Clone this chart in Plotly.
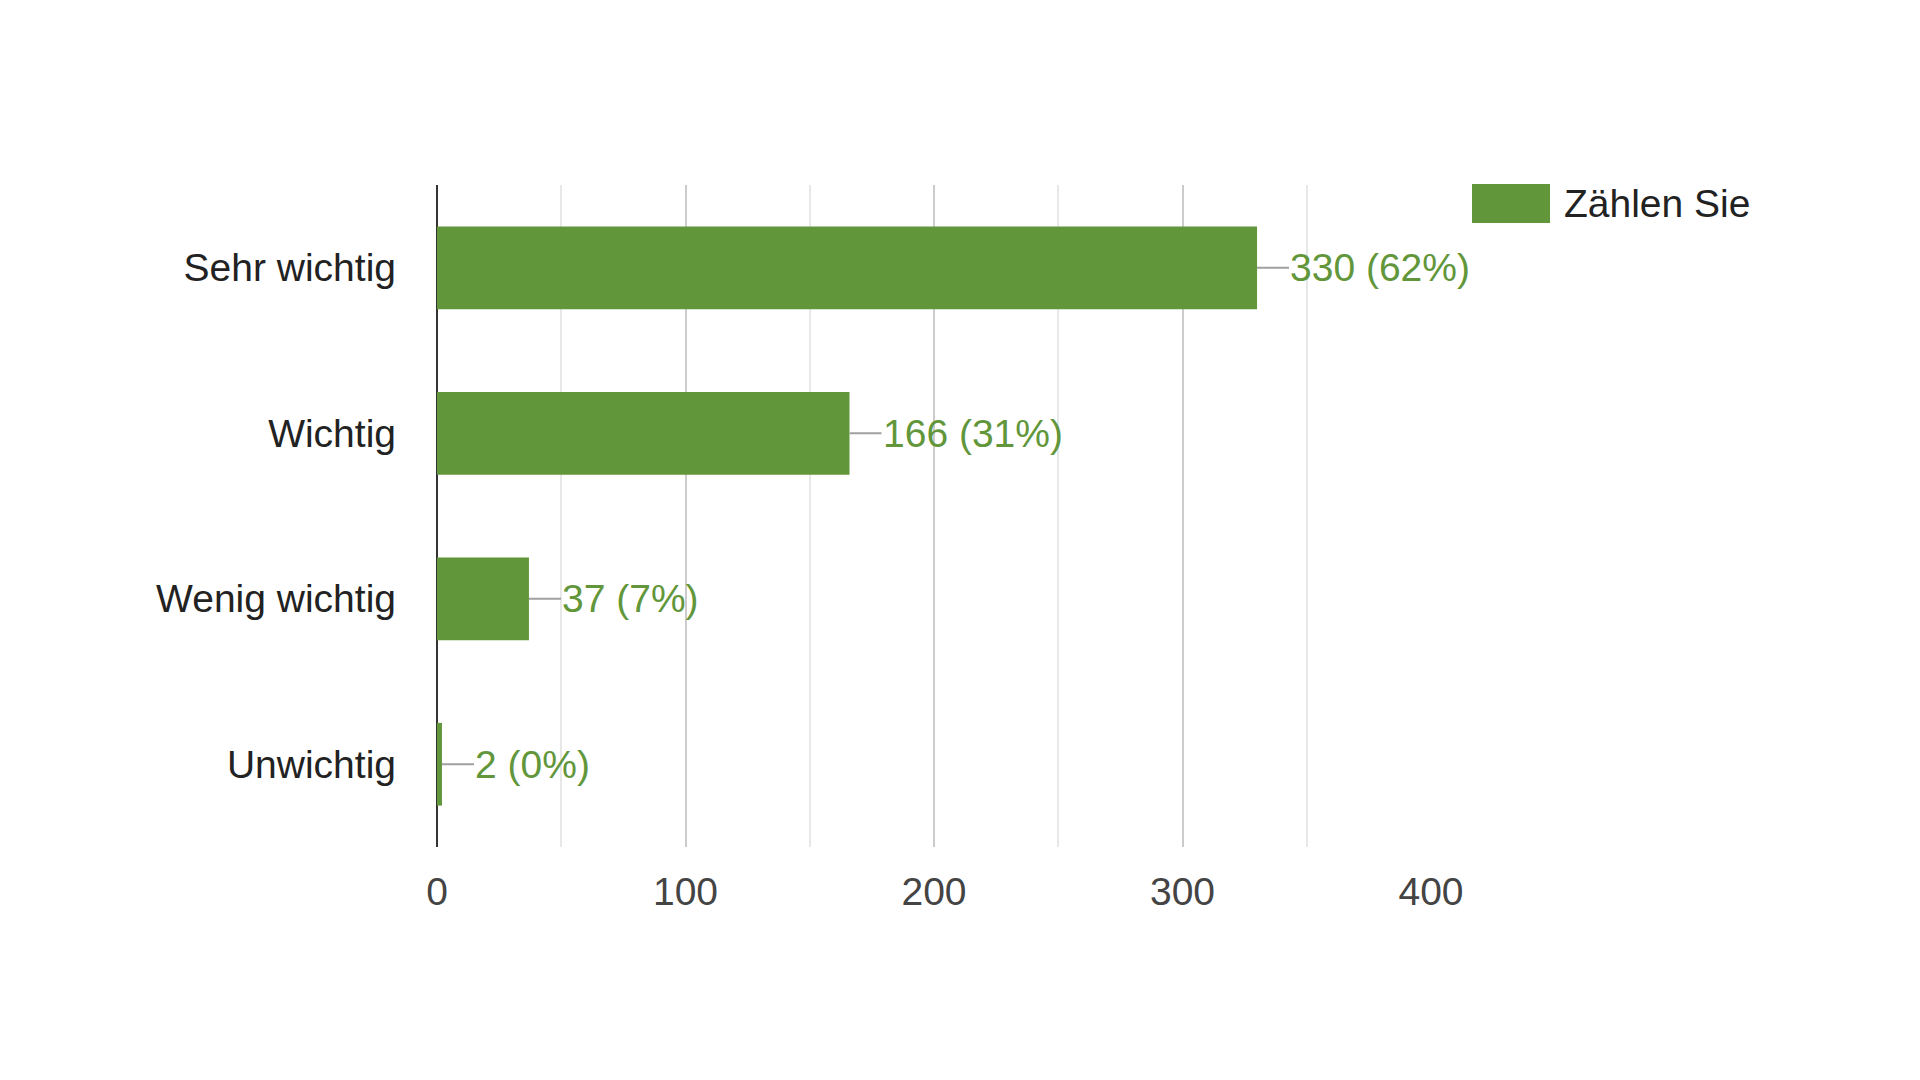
import plotly.graph_objects as go

categories = ["Sehr wichtig", "Wichtig", "Wenig wichtig", "Unwichtig"]
counts = [330, 166, 37, 2]
percents = [62, 31, 7, 0]
series_name = "Zählen Sie"
x_ticks = [0, 100, 200, 300, 400]

GREEN = "#62963a"
FONT = "Liberation Sans, Arial, sans-serif"
FS = 39

# plot area in page pixels (page body has 8px margin)
L, R, T, B = 429, 1423, 177, 839
PW, PH = R - L, B - T

fig = go.Figure()
fig.add_trace(go.Bar(
    x=counts, y=categories, orientation="h",
    marker=dict(color=GREEN, line=dict(width=0)),
    name=series_name, showlegend=False,
))

for c, v, p in zip(categories, counts, percents):
    fig.add_annotation(
        x=v, y=c, xref="x", yref="y",
        text=f"{v} ({p}%)", showarrow=True,
        ax=32, ay=0, xanchor="left", yanchor="middle",
        arrowhead=0, arrowwidth=2, arrowcolor="#a0a0a0", standoff=0,
        borderpad=0,
        font=dict(family=FONT, size=FS, color=GREEN),
    )

# legend drawn manually (large swatch)
fig.add_shape(type="rect", xref="paper", yref="paper",
              x0=(1472 - 8 - L) / PW, x1=(1550 - 8 - L) / PW,
              y0=(B - (223 - 8)) / PH, y1=(B - (184 - 8)) / PH,
              fillcolor=GREEN, line=dict(width=0))
fig.add_annotation(xref="paper", yref="paper",
                   x=(1562 - 8 - L) / PW, y=(B - (203.5 - 8)) / PH,
                   xanchor="left", yanchor="middle", showarrow=False,
                   text=series_name,
                   font=dict(family=FONT, size=FS, color="#222222"))

fig.update_layout(
    width=1920, height=1080,
    margin=dict(l=L, r=1920 - R, t=T, b=1080 - B),
    paper_bgcolor="white", plot_bgcolor="white",
    bargap=0.5,
    font=dict(family=FONT, size=FS, color="#222222"),
    showlegend=False,
)
fig.update_xaxes(
    range=[0, 400], tickvals=x_ticks,
    showgrid=True, gridcolor="#cccccc", gridwidth=2,
    minor=dict(dtick=50, showgrid=True, gridcolor="#e8e8e8", gridwidth=2),
    zeroline=True, zerolinecolor="#333333", zerolinewidth=2,
    tickfont=dict(family=FONT, size=FS, color="#444444"),
    ticklabelstandoff=18, showline=False,
)
fig.update_yaxes(
    categoryorder="array", categoryarray=categories, autorange="reversed",
    showgrid=False, zeroline=False, showline=False,
    tickfont=dict(family=FONT, size=FS, color="#222222"),
    ticklabelstandoff=40,
)

fig.write_html("out.html")
